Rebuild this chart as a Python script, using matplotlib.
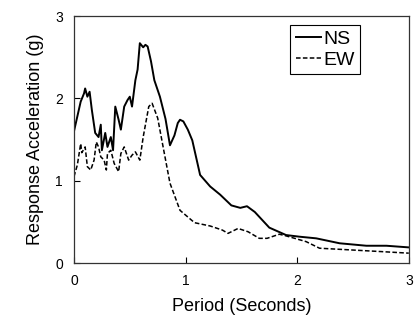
import matplotlib
matplotlib.use("Agg")
import matplotlib.pyplot as plt

plt.rcParams['font.family'] = ['Liberation Sans', 'DejaVu Sans']

# NS component (period s, acceleration g)
ns_t = [0.0, 0.03, 0.06, 0.09, 0.10, 0.12, 0.14, 0.16, 0.19, 0.22, 0.24, 0.25, 0.28,
        0.30, 0.33, 0.35, 0.37, 0.40, 0.42, 0.45, 0.48, 0.50, 0.52, 0.55, 0.57, 0.59,
        0.62, 0.64, 0.66, 0.69, 0.72, 0.77, 0.82, 0.86, 0.90, 0.93, 0.95, 0.98, 1.02,
        1.06, 1.13, 1.22, 1.31, 1.41, 1.49, 1.55, 1.62, 1.75, 1.90, 2.02, 2.17, 2.38,
        2.62, 2.80, 3.0]
ns_a = [1.60, 1.78, 1.96, 2.06, 2.12, 2.02, 2.08, 1.86, 1.58, 1.53, 1.68, 1.37, 1.58,
        1.41, 1.53, 1.37, 1.90, 1.74, 1.62, 1.90, 1.98, 2.02, 1.90, 2.22, 2.35, 2.67,
        2.62, 2.65, 2.63, 2.45, 2.22, 2.02, 1.75, 1.43, 1.55, 1.70, 1.74, 1.72, 1.62,
        1.49, 1.07, 0.93, 0.83, 0.70, 0.67, 0.69, 0.62, 0.43, 0.34, 0.32, 0.30, 0.24,
        0.21, 0.21, 0.19]

# EW component
ew_t = [0.0, 0.03, 0.06, 0.07, 0.10, 0.12, 0.15, 0.18, 0.20, 0.22, 0.24, 0.27, 0.29,
        0.30, 0.33, 0.36, 0.40, 0.42, 0.45, 0.49, 0.52, 0.55, 0.59, 0.62, 0.67, 0.70,
        0.75, 0.80, 0.86, 0.95, 1.08, 1.22, 1.33, 1.38, 1.47, 1.56, 1.66, 1.73, 1.84,
        1.90, 2.08, 2.20, 2.47, 2.74, 3.0]
ew_a = [1.05, 1.19, 1.45, 1.34, 1.41, 1.17, 1.13, 1.25, 1.47, 1.41, 1.29, 1.25, 1.13,
        1.33, 1.37, 1.21, 1.11, 1.33, 1.41, 1.25, 1.31, 1.35, 1.25, 1.53, 1.90, 1.94,
        1.76, 1.40, 0.97, 0.64, 0.49, 0.45, 0.40, 0.36, 0.42, 0.38, 0.30, 0.30, 0.35,
        0.33, 0.26, 0.18, 0.16, 0.14, 0.12]

fig = plt.figure(figsize=(4.18, 3.2), dpi=100)
ax = fig.add_axes([0.177, 0.178, 0.801, 0.772])

ax.plot(ns_t, ns_a, color='black', lw=1.4, label='NS')
ax.plot(ew_t, ew_a, color='black', lw=1.1, ls=(0, (3, 1.5)), label='EW')

ax.set_xlim(0, 3)
ax.set_ylim(0, 3)
ax.set_xticks([0, 1, 2, 3])
ax.set_yticks([0, 1, 2, 3])
ax.tick_params(direction='in', length=4, width=0.8, labelsize=10, pad=8, colors='black')
for s in ax.spines.values():
    s.set_linewidth(0.9)
    s.set_color('#333333')

ax.set_xlabel('Period (Seconds)', fontsize=13, labelpad=7)
ax.set_ylabel('Response Acceleration (g)', fontsize=13, labelpad=8)

leg = ax.legend(loc='upper right', bbox_to_anchor=(0.855, 0.965), fontsize=14,
                handlelength=1.3, handletextpad=0.1, borderpad=0.3,
                labelspacing=0.15, borderaxespad=0, fancybox=False, framealpha=1)
leg.get_frame().set_edgecolor('black')
leg.get_frame().set_linewidth(0.8)

fig.savefig('out.png', dpi=100)
